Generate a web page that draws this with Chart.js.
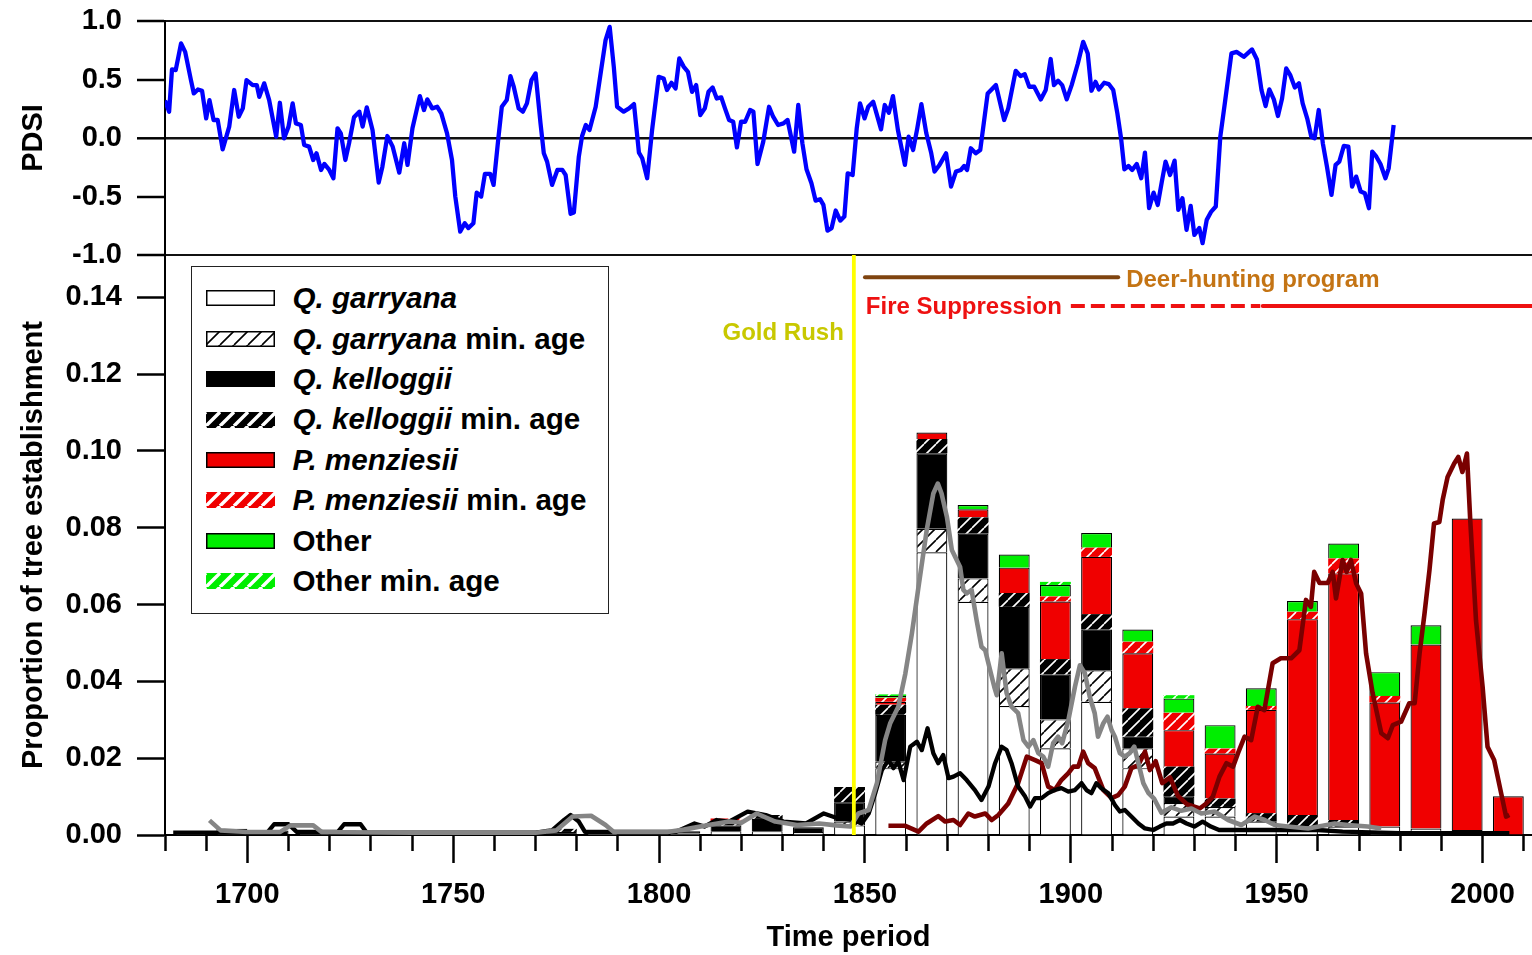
<!DOCTYPE html>
<html>
<head>
<meta charset="utf-8">
<title>Tree establishment and PDSI</title>
<script src="https://cdn.jsdelivr.net/npm/chart.js@4.4.1/dist/chart.umd.min.js"></script>
<style>
  html, body { margin: 0; padding: 0; background: #fff; }
  #wrap { position: relative; width: 1532px; height: 955px; overflow: hidden; }
  #chart { position: absolute; left: 0; top: 0; }
  #legend {
    position: absolute; left: 191px; top: 266px; width: 418px; height: 348px;
    box-sizing: border-box; border: 1.5px solid #222; background: #fff;
    padding-top: 11.3px; color: #000;
    font: bold 29.6px "Liberation Sans", Arial, Helvetica, sans-serif;
  }
  .row { position: relative; height: 40.4px; }
  .row canvas { position: absolute; left: 13.5px; top: 12.2px; width: 69px; height: 16px; }
  .row .lbl { position: absolute; left: 100.5px; top: 0; line-height: 40.4px; white-space: nowrap; }
</style>
</head>
<body>
<div id="wrap">
  <canvas id="chart" width="1532" height="955"></canvas>
  <div id="legend"></div>
</div>
<script>
// ---------- Palmer Drought Severity Index (upper panel) ----------
const pdsiYears = [
  1680.0,1681.0,1681.7,1682.6,1683.9,1684.9,1686.3,1687.0,1688.0,1689.0,1690.0,1690.8,1691.8,1692.8,1694.0,1695.6,
  1696.8,1697.9,1698.9,1699.8,1701.3,1702.3,1702.9,1704.1,1705.3,1707.0,1707.9,1708.9,1710.0,1711.0,1711.8,1713.0,
  1713.8,1715.0,1716.0,1716.8,1717.9,1718.7,1719.9,1720.9,1721.9,1722.7,1723.8,1724.7,1725.9,1727.2,1728.0,1729.0,
  1730.4,1731.9,1732.8,1734.0,1735.3,1736.9,1738.1,1738.9,1740.1,1741.9,1742.9,1743.7,1744.9,1746.1,1747.1,1748.5,
  1749.7,1750.5,1751.7,1752.8,1753.7,1754.9,1755.7,1756.8,1757.7,1759.0,1759.8,1761.0,1761.8,1763.0,1763.9,1764.7,
  1765.9,1766.9,1767.9,1769.0,1770.0,1771.2,1772.0,1772.8,1774.0,1775.3,1776.5,1777.3,1778.5,1779.3,1780.5,1781.3,
  1782.2,1783.1,1784.6,1785.8,1787.0,1788.0,1789.0,1789.8,1791.4,1792.7,1793.9,1795.1,1795.9,1797.1,1798.3,1799.9,
  1801.1,1801.9,1803.0,1804.0,1804.9,1806.0,1807.0,1808.0,1809.0,1810.0,1811.1,1812.0,1813.0,1814.0,1815.1,1816.0,
  1817.0,1818.0,1818.9,1819.9,1820.9,1822.1,1822.9,1823.9,1825.3,1826.7,1827.7,1828.9,1830.2,1831.2,1832.8,1833.8,
  1834.8,1835.8,1837.0,1838.0,1839.1,1839.9,1840.9,1841.9,1842.9,1844.0,1845.0,1845.8,1847.0,1848.0,1848.8,1849.9,
  1850.8,1852.0,1852.8,1853.9,1854.8,1855.8,1856.8,1858.0,1859.7,1860.6,1861.7,1862.7,1863.7,1864.9,1866.1,1866.9,
  1868.1,1869.7,1870.9,1872.1,1873.3,1874.1,1874.8,1875.7,1876.9,1878.0,1879.8,1881.8,1883.8,1884.8,1886.6,1887.8,
  1888.8,1889.9,1891.1,1892.7,1893.9,1895.1,1895.9,1896.9,1897.9,1899.0,1900.2,1901.7,1903.0,1904.1,1905.0,1906.0,
  1906.8,1908.1,1909.2,1910.3,1911.3,1912.2,1913.0,1914.0,1914.9,1916.0,1917.1,1918.0,1919.0,1920.1,1921.1,1922.1,
  1923.0,1924.1,1925.2,1926.1,1927.1,1928.1,1929.1,1930.0,1931.2,1932.0,1933.0,1934.1,1935.2,1936.3,1937.5,1939.0,
  1940.3,1942.0,1944.0,1945.2,1946.3,1947.3,1948.2,1949.3,1950.3,1951.3,1952.3,1953.3,1954.4,1955.4,1956.3,1957.4,
  1958.4,1959.2,1960.2,1961.2,1962.2,1963.3,1964.3,1965.2,1966.3,1967.4,1968.3,1969.3,1970.4,1971.4,1972.4,1973.2,
  1974.2,1975.2,1976.4,1977.2,1978.4
];
const pdsiValues = [
  0.32,0.225,0.586,0.58,0.808,0.736,0.495,0.381,0.415,0.404,0.168,0.324,0.154,0.154,-0.097,0.097,
  0.41,0.182,0.253,0.495,0.452,0.452,0.352,0.467,0.324,0.011,0.301,-0.003,0.097,0.296,0.125,0.111,
  -0.06,-0.074,-0.188,-0.131,-0.273,-0.222,-0.273,-0.344,0.083,0.04,-0.188,-0.045,0.177,0.225,0.097,0.262,
  0.068,-0.381,-0.245,0.017,-0.074,-0.296,-0.045,-0.23,0.083,0.358,0.239,0.33,0.253,0.267,0.211,0.04,
  -0.188,-0.5,-0.8,-0.728,-0.77,-0.728,-0.467,-0.5,-0.307,-0.307,-0.401,0.011,0.267,0.324,0.529,0.438,
  0.253,0.225,0.296,0.495,0.552,0.125,-0.131,-0.202,-0.401,-0.273,-0.273,-0.316,-0.648,-0.637,-0.16,0.017,
  0.111,0.068,0.267,0.552,0.836,0.95,0.608,0.267,0.225,0.253,0.29,-0.125,-0.173,-0.344,0.068,0.523,
  0.509,0.41,0.472,0.424,0.68,0.608,0.566,0.395,0.452,0.196,0.253,0.395,0.432,0.338,0.347,0.253,
  0.154,0.139,-0.08,0.139,0.139,0.239,0.225,-0.222,-0.031,0.267,0.182,0.111,0.125,0.154,-0.117,0.282,
  -0.045,-0.267,-0.387,-0.535,-0.523,-0.572,-0.791,-0.77,-0.62,-0.706,-0.671,-0.302,-0.316,0.083,0.296,0.168,
  0.267,0.31,0.211,0.074,0.282,0.216,0.358,0.068,-0.23,0.011,-0.102,0.083,0.29,0.04,-0.131,-0.287,
  -0.23,-0.131,-0.415,-0.287,-0.273,-0.239,-0.273,-0.088,-0.131,-0.102,0.381,0.452,0.154,0.253,0.574,0.529,
  0.546,0.438,0.438,0.33,0.41,0.675,0.452,0.489,0.452,0.33,0.452,0.637,0.822,0.723,0.404,0.48,
  0.415,0.472,0.461,0.41,0.211,-0.003,-0.267,-0.239,-0.273,-0.222,-0.344,-0.125,-0.6,-0.467,-0.572,-0.373,
  -0.202,-0.316,-0.193,-0.614,-0.515,-0.785,-0.58,-0.828,-0.77,-0.899,-0.7,-0.629,-0.586,0.011,0.324,0.723,
  0.736,0.694,0.757,0.671,0.41,0.273,0.415,0.33,0.188,0.338,0.594,0.537,0.432,0.467,0.296,0.168,
  0.011,-0.003,0.239,-0.045,-0.245,-0.486,-0.23,-0.202,-0.068,-0.074,-0.415,-0.33,-0.458,-0.472,-0.6,-0.117,
  -0.16,-0.222,-0.344,-0.259,0.111
];

// ---------- Decadal establishment (lower panel), decades named by their closing year ----------
const decadeEnds = [1690,1700,1710,1720,1730,1740,1750,1760,1770,1780,1790,1800,1810,1820,1830,1840,1850,
                    1860,1870,1880,1890,1900,1910,1920,1930,1940,1950,1960,1970,1980,1990,2000,2010];
const garryana        = [.0004,.0004,0,.0003,0,0,0,0,0,0,.0008,0,.0004,.001,.001,.0008,.0025,
                         .0174,.0736,.0607,.0336,.0226,.0347,.0174,.0048,.0048,.0035,.0022,.0022,.0022,.0017,.0013,0];
const garryanaMinAge  = [0,.0012,0,0,0,0,0,0,0,0,0,0,0,0,0,0,.001,
                         .0017,.0061,.0061,.0098,.0075,.0082,.0052,.0035,.0025,0,0,0,0,0,0,0];
const kelloggii       = [0,0,.0012,0,.0008,0,0,.0003,.0004,.0008,0,0,.0006,.0015,.0032,.0012,.005,
                         .0122,.0197,.0117,.016,.0117,.0106,.003,.0017,0,0,0,0,0,0,0,0];
const kelloggiiMinAge = [0,0,0,0,0,0,0,0,0,.0008,0,0,0,.001,.001,0,.004,
                         .0026,.0037,.0042,.0036,.004,.004,.0074,.0078,.0022,.0022,.003,.0017,0,0,0,0];
const menziesii       = [0,0,0,0,0,0,0,0,0,0,0,0,0,0,0,0,0,
                         .0008,.0017,.0021,.0066,.015,.0149,.0143,.0095,.0117,.0269,.051,.0642,.0323,.0479,.0811,.0101];
const menziesiiMinAge = [0,0,0,0,0,0,0,0,0,0,0,0,0,.0008,0,0,0,
                         .001,0,0,0,.0013,.0024,.003,.0045,.0013,.001,.0019,.0039,.0017,0,0,0];
const otherSpecies    = [0,0,0,0,0,0,0,0,0,0,0,0,0,0,0,0,0,
                         .0005,0,.0011,.0034,.003,.0038,.0032,.0037,.0061,.0046,.0028,.0039,.0062,.005,0,0];
const otherMinAge     = [0,0,0,0,0,0,0,0,0,0,0,0,0,0,0,0,0,
                         .0004,0,0,0,.0008,0,0,.0009,0,0,0,0,0,0,0,0];

// ---------- Smoothed establishment curves ----------
const garryanaCurveYears = [1690.8,1693.5,1700,1708,1710.5,1716,1718,1740,1770,1775,1779,1783.5,1787,1789,1802,1806,
  1812,1817,1820,1823.7,1828.2,1833.5,1838.9,1843,1846.5,1848.4,1850.9,1852.9,1854.9,1856.1,1858.1,1859.8,
  1861.4,1863,1865,1866.6,1867.7,1868.6,1869.9,1871.1,1873.1,1873.9,1874.7,1875.9,1877.1,1878.3,1879.2,1880.4,
  1881.4,1882,1883.2,1884.4,1885.6,1887.2,1888.5,1889.7,1890.9,1892.1,1893.3,1894.5,1895.7,1896.9,1897.9,1899.4,
  1901,1902.2,1903.4,1904.6,1905.8,1906.6,1907.9,1908.9,1909.9,1910.7,1911.9,1913.1,1914.3,1915.4,1916.4,1917.6,
  1918.8,1920.2,1922,1924.4,1926.8,1929.3,1931.7,1934.9,1938.2,1941.4,1944.7,1947.1,1949.5,1952.7,1957.6,1964.1,
  1967.3,1972.1,1975.4];
const garryanaCurveValues = [.0038,.0012,.0008,.0008,.0025,.0025,.0008,.0006,.0006,.0012,.0048,.005,.0026,.0008,.0008,.0014,
  .0026,.0035,.0032,.0056,.0035,.0026,.003,.0025,.0022,.0056,.0065,.0135,.0247,.029,.0334,.042,
  .0525,.0646,.0794,.0889,.0915,.0889,.0828,.0742,.0698,.0638,.0629,.0638,.056,.049,.0481,.0429,
  .0386,.0364,.0473,.0369,.0334,.0317,.0247,.023,.0247,.0213,.0204,.0178,.0239,.0256,.0239,.0299,
  .0386,.0442,.0421,.036,.0317,.0256,.0291,.0308,.0273,.0256,.0213,.0204,.0213,.023,.0187,.0135,
  .011,.0095,.0058,.0072,.0063,.0069,.0056,.0061,.0039,.0026,.0048,.0039,.0026,.0022,.0017,.003,
  .0026,.0022,.0017];

const kelloggiiCurveYears = [1682,1700,1705,1706.5,1710,1712,1722,1723.5,1727.5,1729,1770,1774,1777,1778.5,1780.5,1782,
  1804,1808.6,1811,1814,1817,1821.5,1825.9,1830.2,1835.7,1840,1843,1847.2,1849.2,1850.9,1852.5,1854.1,
  1855.7,1856.9,1858.1,1859.4,1861,1862.6,1863.8,1865.2,1866.6,1867.8,1869,1870.3,1871.5,1873.1,1874.7,1876.7,
  1878.3,1880,1881.6,1883.2,1884.4,1885.6,1887.2,1888.9,1890.1,1891.3,1892.9,1894.5,1896.1,1897.7,1899.4,1901,
  1902.6,1903.8,1905,1906.2,1907.4,1909.1,1910.7,1911.9,1913.1,1914.7,1916.4,1918,1920,1921.6,1923.2,1924.8,
  1926.5,1928.1,1930,1932,1934,1936,1960,1966,1980,2006.5];
const kelloggiiCurveValues = [.0006,.0006,.0008,.0028,.0028,.0008,.0008,.0028,.0028,.0006,.0006,.0012,.004,.0052,.0035,.0008,
  .0008,.003,.0022,.0039,.0035,.0061,.0052,.0035,.003,.0056,.0045,.0039,.003,.0056,.0109,.0169,
  .0195,.0174,.0191,.0143,.023,.0243,.0221,.0278,.0213,.0187,.0208,.0148,.0152,.0161,.0143,.0117,
  .0091,.0126,.0187,.023,.0221,.0187,.0126,.01,.0074,.0096,.0096,.0109,.0117,.0122,.0113,.0117,
  .0135,.0117,.0109,.0135,.0122,.0109,.0078,.0061,.0065,.0048,.003,.0017,.0013,.0022,.003,.003,
  .0039,.003,.0022,.0035,.0022,.0013,.0013,.0009,.0005,.0005];

const menziesiiCurveYears = [1855.7,1859.8,1863,1865,1867.8,1869.5,1871.5,1873.1,1875.1,1876.7,1879.2,1880.8,1882.4,1884.8,1887.2,1889.3,
  1891.3,1892.9,1894.5,1896.1,1897.7,1899.4,1900.6,1901.8,1903,1904.2,1905.8,1907.9,1909.9,1911.5,1913.1,1914.7,
  1916.4,1918,1919.2,1920.6,1922.2,1924.1,1926,1928.2,1931.3,1932.9,1934.5,1936.1,1937.8,1939.4,1940.6,1942.2,
  1943.8,1945.4,1947,1949,1951,1953.5,1955.5,1957.1,1958.3,1959.1,1960.4,1962.4,1963.6,1964.4,1966,1967,
  1968,1969.3,1970.5,1971.7,1973.3,1975.4,1977,1978.2,1980.2,1982.2,1983.5,1984.7,1985.9,1987.1,1988.2,1989.5,
  1990.3,1991.5,1993.1,1994.1,1995.1,1996.2,1997,1998.4,2000,2001.2,2002.8,2004.5,2005.7,2006.5];
const menziesiiCurveValues = [.0024,.0024,.0009,.003,.0049,.0035,.0039,.0026,.0056,.0048,.0056,.0039,.0052,.0082,.0135,.0204,
  .0195,.0187,.0126,.0117,.0143,.0161,.0178,.0178,.0217,.0187,.0174,.0117,.0096,.0104,.0126,.0174,
  .0182,.0217,.0169,.0192,.0135,.015,.0102,.008,.0069,.0082,.01,.0152,.0187,.0178,.0213,.0256,
  .0247,.0334,.0325,.0447,.046,.046,.0481,.0612,.0594,.0685,.0656,.0656,.0685,.0616,.0716,.0685,
  .0716,.0655,.0629,.0473,.0369,.0265,.0252,.0286,.0295,.0343,.0343,.0473,.0577,.069,.0811,.0815,
  .0872,.0932,.0967,.0984,.0945,.0993,.082,.0559,.0386,.023,.0195,.0109,.0048,.0052];

// ---------- Historical events ----------
const goldRushYear = 1847.3;
const deerProgramYears = [1850, 1911.5];
const fireDashedYears = [1900, 1946];
const fireSolidYears = [1946.6, 2012];
const deerLevel = 0.1452;
const fireLevel = 0.1377;
const eventLabels = { gold: 'Gold Rush', deer: 'Deer-hunting program', fire: 'Fire Suppression' };

// ---------- Axis ranges and ticks ----------
const yearRange = [1680, 2012];
const pdsiRange = [-1, 1];
const establishmentRange = [0, 0.151];
const xLabelEvery = 50;

const FONT = '"Liberation Sans", Arial, Helvetica, sans-serif';
Chart.defaults.font.family = FONT;
Chart.defaults.color = '#000';

const canvas = document.getElementById('chart');
const ctx = canvas.getContext('2d');

function hatchPattern(target, bg, fg, tile, lw) {
  const c = document.createElement('canvas');
  c.width = c.height = tile;
  const g = c.getContext('2d');
  g.fillStyle = bg;
  g.fillRect(0, 0, tile, tile);
  g.strokeStyle = fg;
  g.lineWidth = lw;
  g.beginPath();
  for (const o of [-tile, 0, tile]) { g.moveTo(o, tile); g.lineTo(o + tile, 0); }
  g.stroke();
  return target.createPattern(c, 'repeat');
}

const RED = '#f00000', GREEN = '#00ee00';
const styles = {
  qg:    { solid: '#ffffff', hatch: null,                 border: 1.2 },
  qgMin: { solid: '#ffffff', hatch: ['#ffffff', '#000'],  border: 1.2 },
  qk:    { solid: '#000000', hatch: null,                 border: 1.2 },
  qkMin: { solid: '#000000', hatch: ['#000000', '#fff'],  border: 0 },
  pm:    { solid: RED,       hatch: null,                 border: 1.2 },
  pmMin: { solid: RED,       hatch: [RED, '#fff'],        border: 0 },
  ot:    { solid: GREEN,     hatch: null,                 border: 1.2 },
  otMin: { solid: GREEN,     hatch: [GREEN, '#fff'],      border: 0 }
};
function fillFor(key, target, tile, lw) {
  const s = styles[key];
  return s.hatch ? hatchPattern(target, s.hatch[0], s.hatch[1], tile, lw) : s.solid;
}

const barSeries = [
  { key: 'qg',    name: 'Q. garryana',  suffix: '',          italic: true,  values: garryana },
  { key: 'qgMin', name: 'Q. garryana',  suffix: ' min. age', italic: true,  values: garryanaMinAge },
  { key: 'qk',    name: 'Q. kelloggii', suffix: '',          italic: true,  values: kelloggii },
  { key: 'qkMin', name: 'Q. kelloggii', suffix: ' min. age', italic: true,  values: kelloggiiMinAge },
  { key: 'pm',    name: 'P. menziesii', suffix: '',          italic: true,  values: menziesii },
  { key: 'pmMin', name: 'P. menziesii', suffix: ' min. age', italic: true,  values: menziesiiMinAge },
  { key: 'ot',    name: 'Other',        suffix: '',          italic: false, values: otherSpecies },
  { key: 'otMin', name: 'Other',        suffix: ' min. age', italic: false, values: otherMinAge }
];

// bars occupy the last three quarters of each decade
const barCentre = (end) => end - 3.75;
const toPoints = (xs, ys) => xs.map((x, i) => ({ x, y: ys[i] }));

const barDatasets = barSeries.map((s) => ({
  type: 'bar',
  label: s.name + s.suffix,
  data: decadeEnds.map((d, i) => ({ x: barCentre(d), y: s.values[i] > 0 ? s.values[i] : null })),
  backgroundColor: fillFor(s.key, ctx, 12, 1.6),
  borderColor: '#000',
  borderWidth: styles[s.key].border,
  stack: 'establishment',
  xAxisID: 'x', yAxisID: 'yE',
  categoryPercentage: 1, barPercentage: 0.75,
  order: 3
}));

const lineBase = { type: 'line', pointRadius: 0, tension: 0, borderJoinStyle: 'round', fill: false, xAxisID: 'x' };

const datasets = [
  { ...lineBase, label: 'PDSI', data: toPoints(pdsiYears, pdsiValues), borderColor: '#0000ff', borderWidth: 4.3, yAxisID: 'yP', order: 1 },
  { ...lineBase, label: 'Gold Rush', data: [{ x: goldRushYear, y: establishmentRange[0] }, { x: goldRushYear, y: establishmentRange[1] }],
    borderColor: '#ffff00', borderWidth: 3.8, yAxisID: 'yE', order: 1 },
  { ...lineBase, label: 'Deer-hunting program', data: deerProgramYears.map((x) => ({ x, y: deerLevel })),
    borderColor: '#7f4410', borderWidth: 4, borderCapStyle: 'round', yAxisID: 'yE', order: 1 },
  { ...lineBase, label: 'Fire suppression (partial)', data: fireDashedYears.map((x) => ({ x, y: fireLevel })),
    borderColor: '#ee1111', borderWidth: 4, borderDash: [14, 6], yAxisID: 'yE', order: 1 },
  { ...lineBase, label: 'Fire suppression', data: fireSolidYears.map((x) => ({ x, y: fireLevel })),
    borderColor: '#ee1111', borderWidth: 4, borderCapStyle: 'round', yAxisID: 'yE', order: 1 },
  { ...lineBase, label: 'Q. garryana curve', data: toPoints(garryanaCurveYears, garryanaCurveValues), borderColor: '#858585', borderWidth: 4.6, yAxisID: 'yE', order: 2 },
  { ...lineBase, label: 'Q. kelloggii curve', data: toPoints(kelloggiiCurveYears, kelloggiiCurveValues), borderColor: '#000000', borderWidth: 4.3, yAxisID: 'yE', order: 2 },
  { ...lineBase, label: 'P. menziesii curve', data: toPoints(menziesiiCurveYears, menziesiiCurveValues), borderColor: '#7a0000', borderWidth: 4.6, yAxisID: 'yE', order: 2 },
  ...barDatasets
];

const eventText = {
  id: 'eventText',
  afterDatasetsDraw(chart) {
    const { ctx: c, scales: { x, yE } } = chart;
    c.save();
    c.font = 'bold 24px ' + FONT;
    c.textBaseline = 'middle';
    c.textAlign = 'right';
    c.fillStyle = '#c8c800';
    c.fillText(eventLabels.gold, x.getPixelForValue(goldRushYear) - 10, yE.getPixelForValue(fireLevel) + 27);
    c.fillStyle = '#ee1111';
    c.fillText(eventLabels.fire, x.getPixelForValue(fireDashedYears[0]) - 9, yE.getPixelForValue(fireLevel) + 1);
    c.textAlign = 'left';
    c.fillStyle = '#c47414';
    c.fillText(eventLabels.deer, x.getPixelForValue(deerProgramYears[1]) + 8, yE.getPixelForValue(deerLevel) + 3);
    c.restore();
  }
};

const tickFont = { size: 29, weight: 'bold' };
const titleFont = { size: 29, weight: 'bold' };
const fitLeftAxis = (s) => { s.width = 165; s.paddingTop = 0; s.paddingBottom = 0; };

new Chart(ctx, {
  type: 'bar',
  data: { datasets },
  plugins: [eventText],
  options: {
    responsive: false,
    animation: false,
    devicePixelRatio: 1,
    layout: { padding: { top: 21, right: 0, bottom: 0, left: 0 } },
    plugins: { legend: { display: false }, tooltip: { enabled: false } },
    scales: {
      x: {
        type: 'linear', position: 'bottom', min: yearRange[0], max: yearRange[1],
        offset: false,
        afterFit: (s) => { s.height = 120; s.paddingLeft = 0; s.paddingRight = 0; },
        ticks: {
          stepSize: 10, includeBounds: false, autoSkip: false, maxRotation: 0, padding: 15,
          font: tickFont, color: '#000',
          callback: (v) => (Math.round(v) % xLabelEvery === 0 ? String(Math.round(v)) : '')
        },
        grid: {
          offset: false, drawOnChartArea: false, tickLength: 28, tickColor: '#000', tickWidth: 2.5,
          tickBorderDash: (c) => (Math.round(c.tick.value) % xLabelEvery === 0 ? [] : [15, 100])
        },
        border: { color: '#000', width: 2 },
        title: { display: true, text: 'Time period', font: titleFont, color: '#000', padding: { top: 0, bottom: 0 } }
      },
      yE: {
        type: 'linear', position: 'left', stack: 'panels', stackWeight: 580,
        min: establishmentRange[0], max: establishmentRange[1],
        afterFit: fitLeftAxis,
        ticks: { stepSize: 0.02, includeBounds: false, autoSkip: false, padding: 15, font: tickFont, color: '#000',
                 callback: (v) => Number(v).toFixed(2) },
        grid: { drawOnChartArea: false, tickLength: 28, tickColor: '#000', tickWidth: 2.5 },
        border: { color: '#000', width: 2 },
        title: { display: true, text: 'Proportion of tree establishment', font: titleFont, color: '#000', padding: { top: 17, bottom: 0 } }
      },
      yP: {
        type: 'linear', position: 'left', stack: 'panels', stackWeight: 234,
        min: pdsiRange[0], max: pdsiRange[1],
        afterFit: fitLeftAxis,
        ticks: { stepSize: 0.5, autoSkip: false, padding: 15, font: tickFont, color: '#000',
                 callback: (v) => Number(v).toFixed(1) },
        grid: {
          drawOnChartArea: true, tickLength: 28, tickColor: '#000', tickWidth: 2.5,
          color: (c) => (Math.abs(c.tick.value) < 1e-9 || Math.abs(Math.abs(c.tick.value) - 1) < 1e-9 ? '#111' : 'rgba(0,0,0,0)'),
          lineWidth: (c) => (Math.abs(c.tick.value) < 1e-9 ? 2.6 : 2)
        },
        border: { color: '#000', width: 2 },
        title: { display: true, text: 'PDSI', font: titleFont, color: '#000', padding: { top: 17, bottom: 0 } }
      }
    }
  }
});

// ---------- Legend ----------
const legend = document.getElementById('legend');
barSeries.forEach((s) => {
  const row = document.createElement('div');
  row.className = 'row';
  const sw = document.createElement('canvas');
  sw.width = 69; sw.height = 16;
  const g = sw.getContext('2d');
  g.fillStyle = fillFor(s.key, g, 14, s.key === 'qgMin' ? 1.6 : 3.4);
  g.fillRect(0, 0, 69, 16);
  if (styles[s.key].border > 0) { g.strokeStyle = '#000'; g.lineWidth = 1.5; g.strokeRect(0.75, 0.75, 67.5, 14.5); }
  const label = document.createElement('span');
  label.className = 'lbl';
  const main = document.createElement(s.italic ? 'i' : 'span');
  main.textContent = s.name;
  label.appendChild(main);
  if (s.suffix) label.appendChild(document.createTextNode(s.suffix));
  row.appendChild(sw);
  row.appendChild(label);
  legend.appendChild(row);
});
</script>
</body>
</html>
